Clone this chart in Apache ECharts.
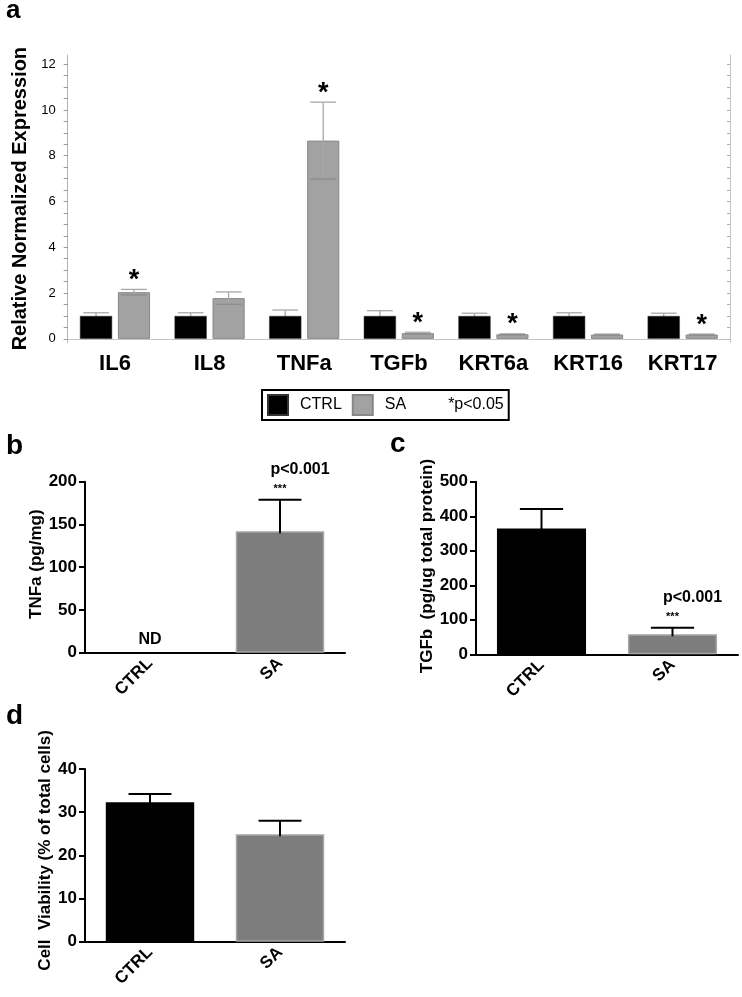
<!DOCTYPE html>
<html>
<head>
<meta charset="utf-8">
<script src="https://cdn.jsdelivr.net/npm/echarts@6/dist/echarts.min.js"></script>
<style>
html,body{margin:0;padding:0;background:#fff;}
#chart{width:742px;height:997px;}
</style>
</head>
<body>
<div id="chart"></div>
<script>
// ---- Panel a: relative normalized expression ----
const catsA = ['IL6', 'IL8', 'TNFa', 'TGFb', 'KRT6a', 'KRT16', 'KRT17'];
const ctrlA = [1, 1, 1, 1, 1, 1, 1];
const ctrlErrA = [0.14, 0.14, 0.26, 0.23, 0.12, 0.14, 0.12];
const saA = [2.04, 1.78, 8.66, 0.25, 0.2, 0.19, 0.19];
const saErrA = [0.12, 0.27, 1.68, 0.04, 0.02, 0.02, 0.02];
const sigA = ['*', '', '*', '*', '*', '', '*'];
const ticksA = [0, 2, 4, 6, 8, 10, 12];

// ---- Panel b: TNFa ELISA ----
const catsB = ['CTRL', 'SA'];
const valsB = [0, 142];
const errB = [0, 37];
const starsB = ['', '***'];
const pB = ['', 'p<0.001'];
const labelB = ['ND', ''];

// ---- Panel c: TGFb ELISA ----
const catsC = ['CTRL', 'SA'];
const valsC = [365, 58];
const errC = [56, 19];
const starsC = ['', '***'];
const pC = ['', 'p<0.001'];

// ---- Panel d: cell viability ----
const catsD = ['CTRL', 'SA'];
const valsD = [32.3, 24.9];
const errD = [1.9, 3.1];

const F = "'Liberation Sans', Arial, sans-serif";
const FN = "'Liberation Sans Narrow', 'Arial Narrow', 'Liberation Sans', sans-serif";
const CTRL_COLOR = '#000000';
const SA_A_COLOR = '#a2a2a2';
const SA_COLOR = '#7d7d7d';

const chart = echarts.init(document.getElementById('chart'), null, {renderer: 'canvas'});

const tickValsA = [];
for (let i = 0; i <= 24; i++) tickValsA.push(i * 0.5);

function errRenderA(vals, errs, side, sig) {
  return function (params, api) {
    const i = params.dataIndex;
    const band = api.size([1, 0])[0];
    const bw = band * 0.34;
    const off = (bw + bw * 0.18) / 2 * side;
    const c = api.coord([i, vals[i]]);
    const x = c[0] + off;
    const top = api.coord([i, vals[i] + errs[i]])[1];
    const bot = api.coord([i, vals[i] - errs[i]])[1];
    const cw = bw * 0.8;
    const ls = {stroke: '#a8a8a8', lineWidth: 1.3};
    const children = [
      {type: 'line', shape: {x1: x, y1: top, x2: x, y2: bot}, style: ls},
      {type: 'line', shape: {x1: x - cw / 2, y1: top, x2: x + cw / 2, y2: top}, style: ls},
      {type: 'line', shape: {x1: x - cw / 2, y1: bot, x2: x + cw / 2, y2: bot}, style: {stroke: '#8c8c8c', lineWidth: 1.3}}
    ];
    if (sig && sig[i]) {
      children.push({type: 'text', style: {text: sig[i], x: x, y: top - 9, align: 'center', verticalAlign: 'middle',
        font: 'bold 27px ' + F, fill: '#000'}});
    }
    return {type: 'group', children: children};
  };
}

function errRender(vals, errs, stars, ps) {
  return function (params, api) {
    const i = params.dataIndex;
    if (!errs[i]) return {type: 'group', children: []};
    const band = api.size([1, 0])[0];
    const x = api.coord([i, vals[i]])[0];
    const base = api.coord([i, vals[i]])[1];
    const top = api.coord([i, vals[i] + errs[i]])[1];
    const cw = band * 0.33;
    const ls = {stroke: '#000', lineWidth: 2};
    const children = [
      {type: 'line', shape: {x1: x, y1: base + 2, x2: x, y2: top}, style: ls},
      {type: 'line', shape: {x1: x - cw / 2, y1: top, x2: x + cw / 2, y2: top}, style: ls}
    ];
    if (stars && stars[i]) {
      children.push({type: 'text', style: {text: stars[i], x: x, y: top - 11, align: 'center', verticalAlign: 'middle',
        font: 'bold 11px ' + F, fill: '#000'}});
    }
    if (ps && ps[i]) {
      children.push({type: 'text', style: {text: ps[i], x: x + 20, y: top - 30, align: 'center', verticalAlign: 'middle',
        font: 'bold 16px ' + F, fill: '#000'}});
    }
    return {type: 'group', children: children};
  };
}

const boldAxis = (gi, cats) => ({
  gridIndex: gi, type: 'category', data: cats,
  axisLine: {lineStyle: {color: '#000', width: 2}},
  axisTick: {alignWithLabel: true, length: 6, lineStyle: {color: '#000', width: 2}},
  axisLabel: {rotate: 45, margin: 8, color: '#000', fontFamily: F, fontWeight: 'bold', fontSize: 17}
});
const boldY = (gi, max, interval, name, gap, shift) => ({
  gridIndex: gi, type: 'value', min: 0, max: max, interval: interval,
  name: name, nameLocation: 'middle', nameRotate: 90, nameGap: gap,
  nameTextStyle: {color: '#000', fontFamily: F, fontWeight: 'bold', fontSize: 17, padding: [0, 0, 0, shift]},
  axisLine: {show: true, lineStyle: {color: '#000', width: 2}},
  axisTick: {show: true, length: 6, lineStyle: {color: '#000', width: 2}},
  axisLabel: {margin: 8, color: '#000', fontFamily: F, fontWeight: 'bold', fontSize: 17},
  splitLine: {show: false}
});

const option = {
  backgroundColor: '#ffffff',
  animation: false,
  textStyle: {fontFamily: F},
  title: [
    {text: 'a', left: 6, top: -2, padding: 0, textStyle: {fontFamily: F, fontWeight: 'bold', fontSize: 26, color: '#000'}},
    {text: 'b', left: 6, top: 432, padding: 0, textStyle: {fontFamily: F, fontWeight: 'bold', fontSize: 28, color: '#000'}},
    {text: 'c', left: 390, top: 430, padding: 0, textStyle: {fontFamily: F, fontWeight: 'bold', fontSize: 28, color: '#000'}},
    {text: 'd', left: 6, top: 702, padding: 0, textStyle: {fontFamily: F, fontWeight: 'bold', fontSize: 28, color: '#000'}}
  ],
  legend: {
    left: 262, top: 390, orient: 'horizontal',
    selectedMode: false,
    borderColor: '#000', borderWidth: 2, padding: [4, 5, 4, 5],
    itemWidth: 20, itemHeight: 20, itemGap: 10,
    textStyle: {fontFamily: F, fontSize: 16, color: '#000', padding: [0, 0, 0, 7]},
    data: [
      {name: 'CTRL', icon: 'rect'},
      {name: 'SA', icon: 'rect'},
      {name: '*p<0.05', icon: 'rect', itemStyle: {opacity: 0}}
    ]
  },
  grid: [
    {left: 67.7, top: 55, width: 662.3, height: 287.3, show: false},
    {left: 85, top: 481.7, width: 260, height: 171},
    {left: 476, top: 481.8, width: 262, height: 172.5},
    {left: 85, top: 769, width: 260, height: 172.7}
  ],
  xAxis: [
    {gridIndex: 0, type: 'category', data: catsA, position: 'bottom',
      axisLine: {lineStyle: {color: '#b4b4b4', width: 1.2}},
      axisTick: {alignWithLabel: true, length: 5, lineStyle: {color: '#a0a0a0'}},
      axisLabel: {margin: 11, color: '#000', fontFamily: FN, fontWeight: 'bold', fontSize: 22}},
    {gridIndex: 0, type: 'category', data: catsA, position: 'top',
      axisLine: {lineStyle: {color: '#c4c4c4', width: 1}},
      axisTick: {alignWithLabel: true, inside: true, length: 4, lineStyle: {color: '#b0b0b0'}},
      axisLabel: {show: false}},
    boldAxis(1, catsB),
    boldAxis(2, catsC),
    boldAxis(3, catsD)
  ],
  yAxis: [
    {gridIndex: 0, type: 'value', min: -0.15, max: 12.4,
      name: 'Relative Normalized Expression', nameLocation: 'middle', nameRotate: 90, nameGap: 26,
      nameTextStyle: {color: '#000', fontFamily: F, fontWeight: 'bold', fontSize: 20},
      axisLine: {show: true, lineStyle: {color: '#b4b4b4', width: 1}},
      axisTick: {show: true, customValues: tickValsA, length: 4, lineStyle: {color: '#9a9a9a'}},
      axisLabel: {customValues: ticksA, margin: 12, color: '#000', fontFamily: FN, fontSize: 13},
      splitLine: {show: false}},
    {gridIndex: 0, type: 'value', min: -0.15, max: 12.4, position: 'right',
      axisLine: {show: true, lineStyle: {color: '#c4c4c4', width: 1}},
      axisTick: {show: true, inside: true, customValues: tickValsA, length: 3, lineStyle: {color: '#b0b0b0'}},
      axisLabel: {show: false}, splitLine: {show: false}},
    boldY(1, 200, 50, 'TNFa (pg/mg)', 38, 6),
    boldY(2, 500, 100, 'TGFb  (pg/ug total protein)', 34, 4),
    boldY(3, 40, 10, 'Cell  Viability (% of total cells)', 28, 10)
  ],
  series: [
    {name: 'CTRL', type: 'bar', xAxisIndex: 0, yAxisIndex: 0, data: ctrlA, barWidth: '34%', barGap: '18%', z: 3,
      itemStyle: {color: CTRL_COLOR, borderColor: '#333', borderWidth: 0.5}},
    {name: 'SA', type: 'bar', xAxisIndex: 0, yAxisIndex: 0, data: saA, barWidth: '34%', barGap: '18%', z: 3,
      itemStyle: {color: SA_A_COLOR, borderColor: '#888', borderWidth: 1}},
    {name: '*p<0.05', type: 'line', xAxisIndex: 0, yAxisIndex: 0, data: [], itemStyle: {color: '#fff'}},
    {type: 'custom', xAxisIndex: 0, yAxisIndex: 0, z: 1, data: ctrlA.map((v, i) => [i, v]),
      renderItem: errRenderA(ctrlA, ctrlErrA, -1, null)},
    {type: 'custom', xAxisIndex: 0, yAxisIndex: 0, z: 5, data: saA.map((v, i) => [i, v]),
      renderItem: errRenderA(saA, saErrA, 1, sigA)},

    {name: 'TNFa ELISA', type: 'bar', xAxisIndex: 2, yAxisIndex: 2, barWidth: '68%', z: 2,
      data: valsB.map((v, i) => ({value: v,
        itemStyle: i === 0 ? {color: CTRL_COLOR} : {color: SA_COLOR, borderColor: '#a5a5a5', borderWidth: 1.5},
        label: {show: !!labelB[i], position: 'top', distance: 5, formatter: labelB[i],
          color: '#000', fontFamily: F, fontWeight: 'bold', fontSize: 16}}))},
    {type: 'custom', xAxisIndex: 2, yAxisIndex: 2, z: 5, data: valsB.map((v, i) => [i, v]),
      renderItem: errRender(valsB, errB, starsB, pB)},

    {name: 'TGFb ELISA', type: 'bar', xAxisIndex: 3, yAxisIndex: 3, barWidth: '68%', z: 2,
      data: valsC.map((v, i) => ({value: v,
        itemStyle: i === 0 ? {color: CTRL_COLOR} : {color: SA_COLOR, borderColor: '#a5a5a5', borderWidth: 1.5}}))},
    {type: 'custom', xAxisIndex: 3, yAxisIndex: 3, z: 5, data: valsC.map((v, i) => [i, v]),
      renderItem: errRender(valsC, errC, starsC, pC)},

    {name: 'Cell Viability', type: 'bar', xAxisIndex: 4, yAxisIndex: 4, barWidth: '68%', z: 2,
      data: valsD.map((v, i) => ({value: v,
        itemStyle: i === 0 ? {color: CTRL_COLOR} : {color: SA_COLOR, borderColor: '#a5a5a5', borderWidth: 1.5}}))},
    {type: 'custom', xAxisIndex: 4, yAxisIndex: 4, z: 5, data: valsD.map((v, i) => [i, v]),
      renderItem: errRender(valsD, errD, null, null)}
  ]
};
chart.setOption(option);
</script>
</body>
</html>
